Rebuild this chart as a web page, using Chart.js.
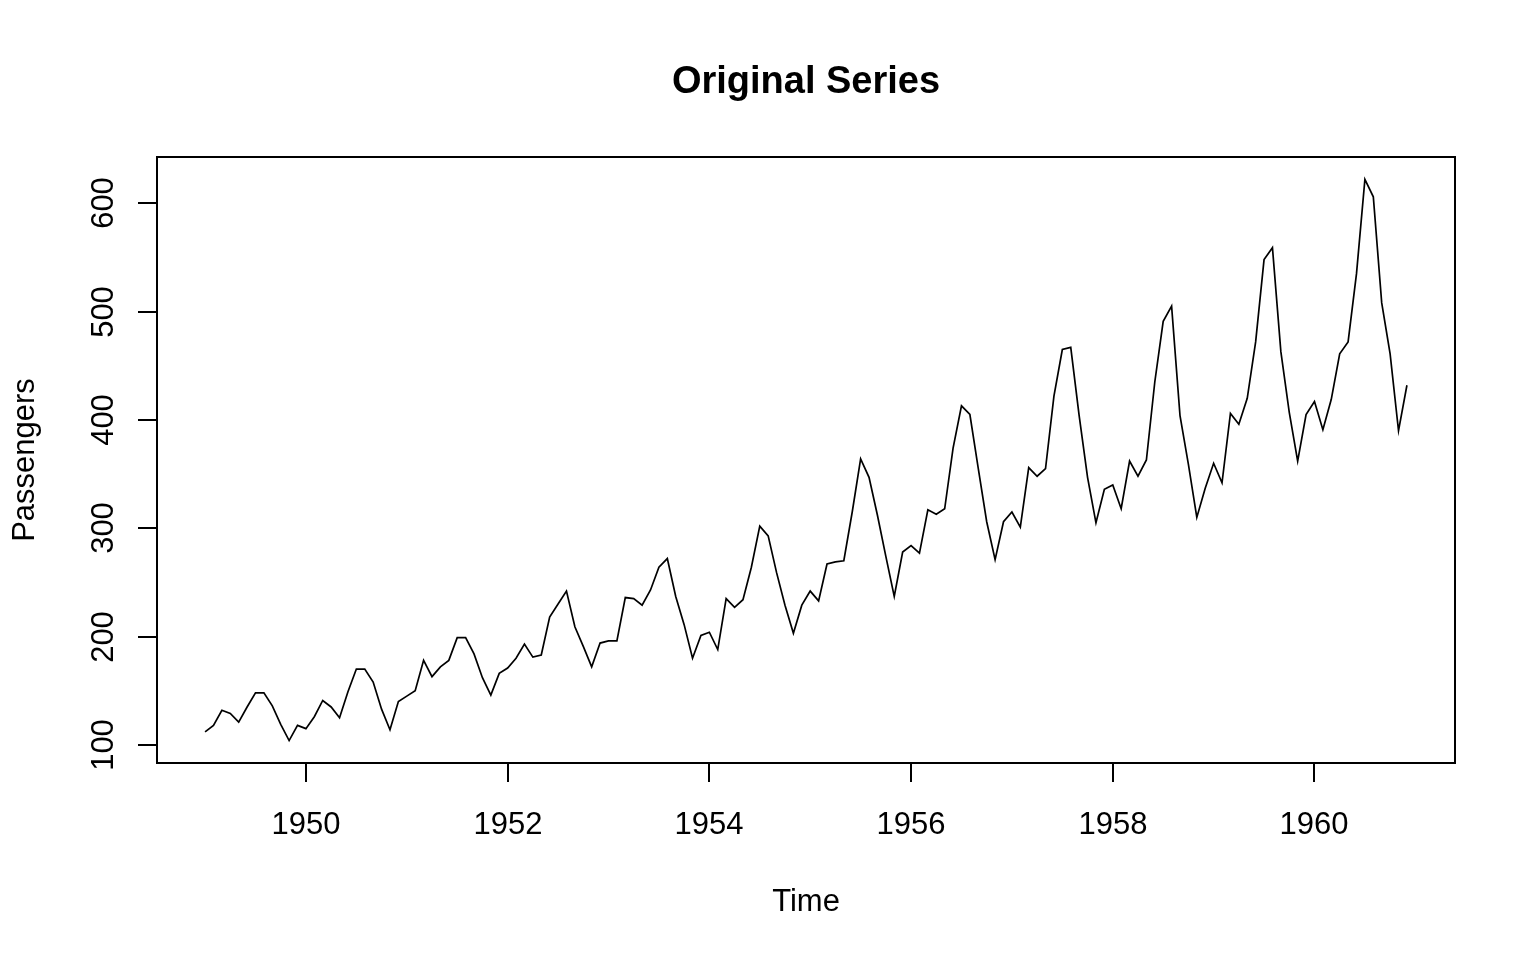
<!DOCTYPE html>
<html>
<head>
<meta charset="utf-8">
<title>Original Series</title>
<script src="https://cdn.jsdelivr.net/npm/chart.js@4/dist/chart.umd.min.js"></script>
<style>
  body { margin: 0; background: #fff; }
  #wrap { width: 1536px; height: 960px; }
</style>
</head>
<body>
<div id="wrap"><canvas id="grafico" width="1536" height="960"></canvas></div>
<script>
// Pasajeros mensuales (miles), ene..dic
const p1949 = [112, 118, 132, 129, 121, 135, 148, 148, 136, 119, 104, 118];
const p1950 = [115, 126, 141, 135, 125, 149, 170, 170, 158, 133, 114, 140];
const p1951 = [145, 150, 178, 163, 172, 178, 199, 199, 184, 162, 146, 166];
const p1952 = [171, 180, 193, 181, 183, 218, 230, 242, 209, 191, 172, 194];
const p1953 = [196, 196, 236, 235, 229, 243, 264, 272, 237, 211, 180, 201];
const p1954 = [204, 188, 235, 227, 234, 264, 302, 293, 259, 229, 203, 229];
const p1955 = [242, 233, 267, 269, 270, 315, 364, 347, 312, 274, 237, 278];
const p1956 = [284, 277, 317, 313, 318, 374, 413, 405, 355, 306, 271, 306];
const p1957 = [315, 301, 356, 348, 355, 422, 465, 467, 404, 347, 305, 336];
const p1958 = [340, 318, 362, 348, 363, 435, 491, 505, 404, 359, 310, 337];
const p1959 = [360, 342, 406, 396, 420, 472, 548, 559, 463, 407, 362, 405];
const p1960 = [417, 391, 419, 461, 472, 535, 622, 606, 508, 461, 390, 432];

const years = [1949, 1950, 1951, 1952, 1953, 1954, 1955, 1956, 1957, 1958, 1959, 1960];
const porAnio = [p1949, p1950, p1951, p1952, p1953, p1954, p1955, p1956, p1957, p1958, p1959, p1960];

const xTicks = [1950, 1952, 1954, 1956, 1958, 1960];
const yTicks = [100, 200, 300, 400, 500, 600];

// Serie como puntos {x: tiempo, y: pasajeros}
const puntos = [];
years.forEach((anio, i) => {
    porAnio[i].forEach((v, m) => puntos.push({ x: anio + m / 12, y: v }));
});

// Rango con el 4% extra como en R
const xs = puntos.map(p => p.x);
const ys = puntos.map(p => p.y);
const xPad = (Math.max(...xs) - Math.min(...xs)) * 0.04;
const yPad = (Math.max(...ys) - Math.min(...ys)) * 0.04;

const fuente = '"Liberation Sans", Arial, sans-serif';

// Ejes, caja y textos al estilo de R
const estiloR = {
    id: "estiloR",
    afterDraw(chart) {
        const ctx = chart.ctx;
        const a = chart.chartArea;
        const sx = chart.scales.x;
        const sy = chart.scales.y;
        ctx.save();
        ctx.strokeStyle = "#000";
        ctx.fillStyle = "#000";
        ctx.lineWidth = 2;
        ctx.strokeRect(a.left, a.top, a.right - a.left, a.bottom - a.top);

        // eje x
        ctx.font = "31px " + fuente;
        ctx.textAlign = "center";
        ctx.textBaseline = "alphabetic";
        xTicks.forEach(t => {
            const px = Math.round(sx.getPixelForValue(t));
            ctx.beginPath();
            ctx.moveTo(px, a.bottom);
            ctx.lineTo(px, a.bottom + 19);
            ctx.stroke();
            ctx.fillText(String(t), px, 834);
        });

        // eje y (etiquetas giradas)
        yTicks.forEach(t => {
            const py = Math.round(sy.getPixelForValue(t));
            ctx.beginPath();
            ctx.moveTo(a.left, py);
            ctx.lineTo(a.left - 19, py);
            ctx.stroke();
            ctx.save();
            ctx.translate(113, py);
            ctx.rotate(-Math.PI / 2);
            ctx.fillText(String(t), 0, 0);
            ctx.restore();
        });

        // títulos
        const cx = (a.left + a.right) / 2;
        ctx.fillText("Time", cx, 911);
        ctx.save();
        ctx.translate(34, (a.top + a.bottom) / 2);
        ctx.rotate(-Math.PI / 2);
        ctx.fillText("Passengers", 0, 0);
        ctx.restore();

        ctx.font = "bold 38px " + fuente;
        ctx.fillText("Original Series", cx, 93);
        ctx.restore();
    }
};

const grafico = new Chart(document.getElementById("grafico").getContext("2d"), {
    type: "line",
    data: {
        datasets: [{
            label: "Passengers",
            data: puntos,
            borderColor: "#000",
            borderWidth: 1.7,
            pointRadius: 0,
            tension: 0,
            fill: false
        }]
    },
    options: {
        responsive: false,
        devicePixelRatio: 1,
        animation: false,
        layout: { padding: { left: 157, top: 157, right: 81, bottom: 197 } },
        scales: {
            x: {
                type: "linear",
                display: false,
                min: Math.min(...xs) - xPad,
                max: Math.max(...xs) + xPad
            },
            y: {
                type: "linear",
                display: false,
                min: Math.min(...ys) - yPad,
                max: Math.max(...ys) + yPad
            }
        },
        plugins: {
            legend: { display: false },
            tooltip: { enabled: false }
        }
    },
    plugins: [estiloR]
});
</script>
</body>
</html>
